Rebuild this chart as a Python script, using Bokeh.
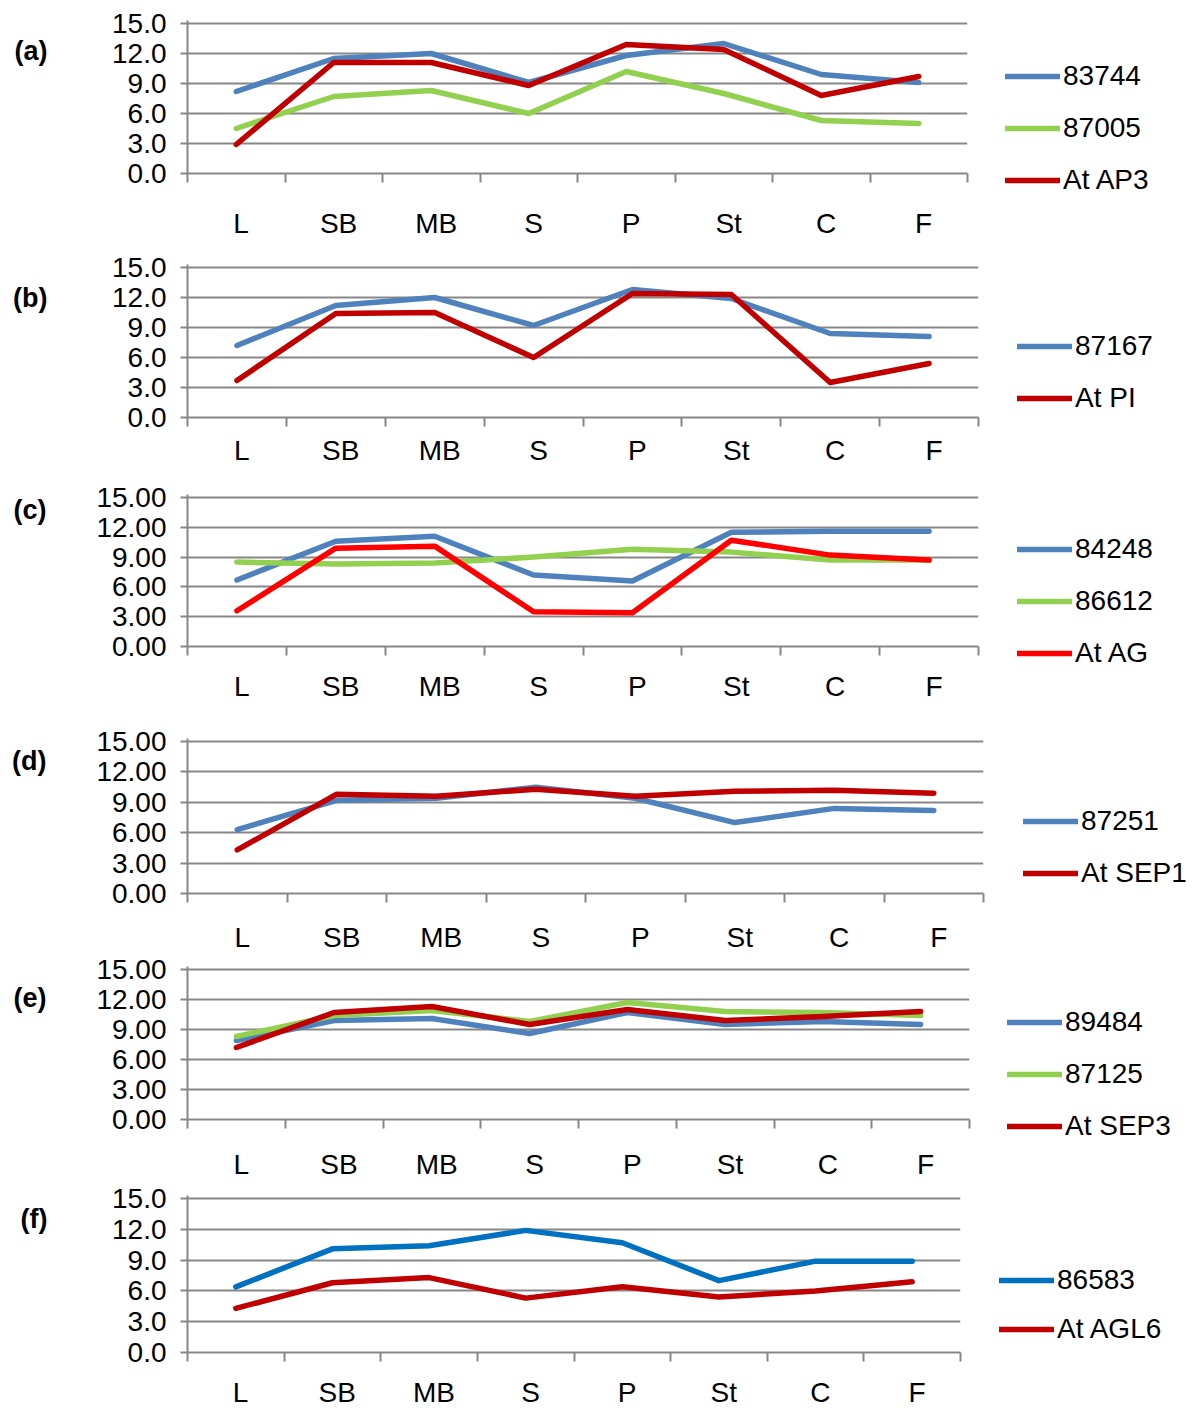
from bokeh.plotting import figure
from bokeh.layouts import column
from bokeh.models import (Range1d, FixedTicker, NumeralTickFormatter, Legend, LegendItem,
                          LinearAxis)
from bokeh.embed import file_html
from bokeh.resources import INLINE

# ---------------- data ----------------
CATEGORIES = ["L", "SB", "MB", "S", "P", "St", "C", "F"]
Y_TICKS = [0, 3, 6, 9, 12, 15]

A_83744 = [8.2, 11.5, 12.0, 9.1, 11.8, 13.0, 9.9, 9.1]
A_87005 = [4.5, 7.7, 8.3, 6.0, 10.2, 8.0, 5.3, 5.0]
A_AT_AP3 = [2.9, 11.1, 11.1, 8.8, 12.9, 12.4, 7.8, 9.7]

B_87167 = [7.2, 11.2, 12.0, 9.2, 12.8, 11.9, 8.4, 8.1]
B_AT_PI = [3.7, 10.4, 10.5, 6.0, 12.4, 12.3, 3.5, 5.4]

C_84248 = [6.7, 10.6, 11.1, 7.2, 6.6, 11.5, 11.6, 11.6]
C_86612 = [8.5, 8.3, 8.4, 9.0, 9.8, 9.5, 8.7, 8.7]
C_AT_AG = [3.6, 9.9, 10.1, 3.5, 3.4, 10.7, 9.2, 8.7]

D_87251 = [6.3, 9.2, 9.4, 10.5, 9.4, 7.0, 8.4, 8.2]
D_AT_SEP1 = [4.3, 9.8, 9.6, 10.3, 9.6, 10.1, 10.2, 9.9]

E_89484 = [7.9, 9.9, 10.1, 8.6, 10.7, 9.5, 9.8, 9.5]
E_87125 = [8.3, 10.4, 10.9, 9.8, 11.7, 10.8, 10.7, 10.4]
E_AT_SEP3 = [7.2, 10.7, 11.3, 9.5, 11.0, 9.9, 10.3, 10.8]

F_86583 = [6.4, 10.1, 10.4, 11.9, 10.7, 7.0, 8.9, 8.9]
F_AT_AGL6 = [4.3, 6.8, 7.3, 5.3, 6.4, 5.4, 6.0, 6.9]

BLUE = "#4F81BD"
GREEN = "#92D050"
DARKRED = "#C00000"
RED = "#FF0000"
BLUE2 = "#0070C0"
GRID = "#878787"
FONT = "Liberation Sans"

PANELS = [
    dict(tag="(a)", tag_at=12.3, fmt="0.0",
         series=[("83744", A_83744, BLUE), ("87005", A_87005, GREEN), ("At AP3", A_AT_AP3, DARKRED)],
         left=183, fw=780, top=20, fh=153, bottom=73, cat_off=50,
         leg_x=38, leg_last=-7, pitch=52),
    dict(tag="(b)", tag_at=12.0, fmt="0.0",
         series=[("87167", B_87167, BLUE), ("At PI", B_AT_PI, DARKRED)],
         left=184, fw=791, top=18, fh=153, bottom=57, cat_off=33,
         leg_x=39, leg_last=19, pitch=52),
    dict(tag="(c)", tag_at=13.7, fmt="0.00",
         series=[("84248", C_84248, BLUE), ("86612", C_86612, GREEN), ("At AG", C_AT_AG, RED)],
         left=184, fw=791, top=20, fh=152, bottom=68, cat_off=40,
         leg_x=39, leg_last=-7, pitch=52),
    dict(tag="(d)", tag_at=13.1, fmt="0.00",
         series=[("87251", D_87251, BLUE), ("At SEP1", D_AT_SEP1, DARKRED)],
         left=185, fw=796, top=24, fh=155, bottom=62, cat_off=44,
         leg_x=40, leg_last=20, pitch=52),
    dict(tag="(e)", tag_at=12.2, fmt="0.00",
         series=[("89484", E_89484, BLUE), ("87125", E_87125, GREEN), ("At SEP3", E_AT_SEP3, DARKRED)],
         left=184, fw=782, top=11, fh=153, bottom=64, cat_off=45,
         leg_x=38, leg_last=-7, pitch=52),
    dict(tag="(f)", tag_at=13.0, fmt="0.0",
         series=[("86583", F_86583, BLUE2), ("At AGL6", F_AT_AGL6, DARKRED)],
         left=187, fw=773, top=12, fh=157, bottom=67, cat_off=40,
         leg_x=39, leg_last=23, pitch=49),
]

TOTAL_W = 1184
ITEM_H = 32
FS = "28px"
TICK_OUT = 9


def make_panel(cfg):
    n = len(CATEGORIES)
    xs = [i + 0.5 for i in range(n)]
    label_pos = [x + 0.05 for x in xs]
    bounds = list(range(n + 1))
    p = figure(frame_width=cfg["fw"], frame_height=cfg["fh"],
               min_border_left=cfg["left"], min_border_right=TOTAL_W - cfg["left"] - cfg["fw"],
               min_border_top=cfg["top"], min_border_bottom=cfg["bottom"],
               x_range=Range1d(0, n), y_range=Range1d(0, 15.3),
               output_backend="svg", toolbar_location=None, tools="")
    p.outline_line_color = None
    p.background_fill_color = "white"
    p.border_fill_color = "white"

    # y axis
    ya = p.yaxis[0]
    ya.ticker = FixedTicker(ticks=Y_TICKS)
    ya.formatter = NumeralTickFormatter(format=cfg["fmt"])
    ya.axis_line_color = GRID
    ya.axis_line_width = 2
    ya.major_tick_line_color = GRID
    ya.major_tick_line_width = 2
    ya.major_tick_out = 7
    ya.major_tick_in = 0
    ya.minor_tick_line_color = None
    ya.major_label_standoff = 14
    ya.major_label_text_font = FONT
    ya.major_label_text_font_size = FS
    ya.major_label_text_color = "black"

    # panel tag as an outer left axis with a single labelled tick
    wide = cfg["fmt"] == "0.00"
    tag_axis = LinearAxis(ticker=FixedTicker(ticks=[cfg["tag_at"]]),
                          major_label_overrides={cfg["tag_at"]: cfg["tag"]},
                          axis_line_color=None, major_tick_line_color=None,
                          minor_tick_line_color=None, major_tick_out=0, major_tick_in=0,
                          major_label_standoff=47 if wide else 62,
                          major_label_text_font=FONT, major_label_text_font_size="27px",
                          major_label_text_font_style="bold", major_label_text_color="black")
    p.add_layout(tag_axis, "left")

    # x axis: category labels at centres, tick marks at boundaries
    xa = p.xaxis[0]
    xa.ticker = FixedTicker(ticks=label_pos, minor_ticks=bounds)
    xa.major_label_overrides = {lp: c for lp, c in zip(label_pos, CATEGORIES)}
    xa.axis_line_color = GRID
    xa.axis_line_width = 2
    xa.major_tick_line_color = None
    xa.major_tick_out = 0
    xa.major_tick_in = 0
    xa.minor_tick_line_color = GRID
    xa.minor_tick_line_width = 2
    xa.minor_tick_out = TICK_OUT
    xa.minor_tick_in = 0
    xa.major_label_standoff = max(cfg["cat_off"] - 16 - TICK_OUT, 0)
    xa.major_label_text_font = FONT
    xa.major_label_text_font_size = FS
    xa.major_label_text_color = "black"

    p.xgrid.visible = False
    p.ygrid.ticker = FixedTicker(ticks=Y_TICKS)
    p.ygrid.grid_line_color = GRID
    p.ygrid.grid_line_width = 2

    items = []
    for name, vals, col in cfg["series"]:
        r = p.line(xs, vals, line_width=5.5, line_color=col, line_join="round", line_cap="round")
        items.append(LegendItem(label=name, renderers=[r]))

    spacing = cfg["pitch"] - ITEM_H
    leg = Legend(items=items, location=(cfg["leg_x"], cfg["leg_last"] - ITEM_H // 2),
                 orientation="vertical", border_line_color=None, background_fill_alpha=0,
                 padding=0, margin=0, spacing=spacing, glyph_width=55, glyph_height=ITEM_H,
                 label_height=ITEM_H, label_standoff=3, label_text_font=FONT,
                 label_text_font_size=FS, label_text_color="black",
                 label_text_baseline="middle")
    p.add_layout(leg, "right")
    return p


figs = [make_panel(c) for c in PANELS]
layout = column(*figs, spacing=0)

open("out.html", "w").write(file_html(layout, INLINE))
